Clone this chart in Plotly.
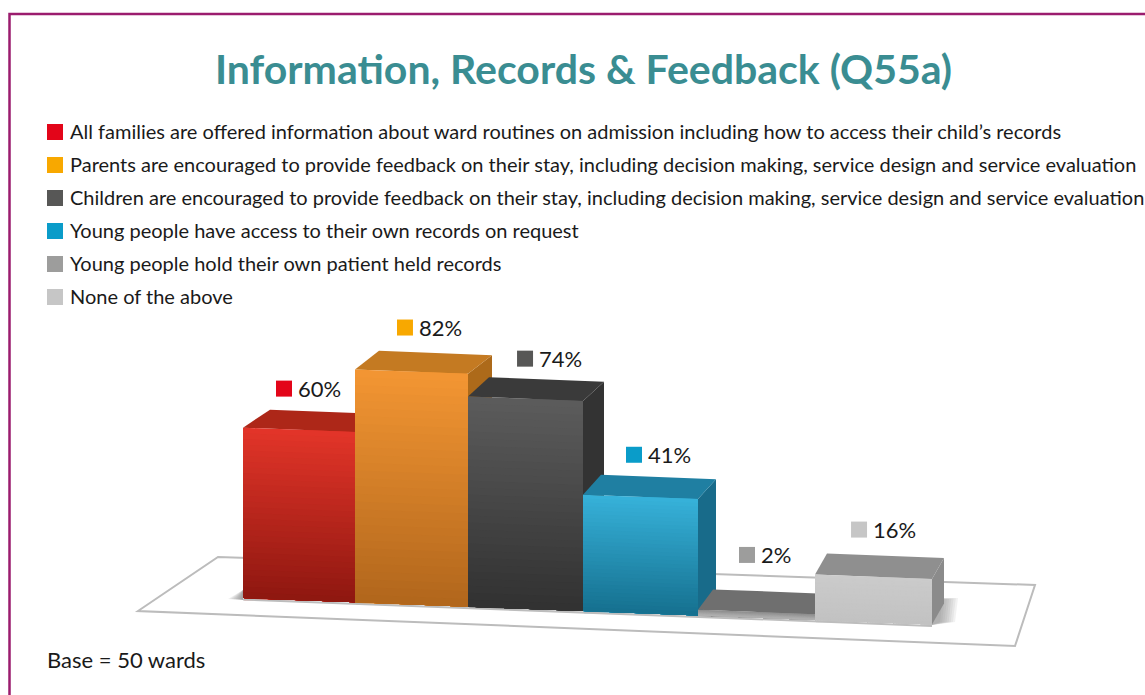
import plotly.graph_objects as go

# ---- data ----
categories = [
    "All families are offered information about ward routines on admission including how to access their child’s records",
    "Parents are encouraged to provide feedback on their stay, including decision making, service design and service evaluation",
    "Children are encouraged to provide feedback on their stay, including decision making, service design and service evaluation",
    "Young people have access to their own records on request",
    "Young people hold their own patient held records",
    "None of the above",
]
values = [60, 82, 74, 41, 2, 16]
value_labels = ["60%", "82%", "74%", "41%", "2%", "16%"]
title_text = "Information, Records &amp; Feedback (Q55a)"
base_note = "Base = 50 wards"

# ---- styles ----
swatch_colors = ["#e30519", "#f8a800", "#575756", "#0a9cc9", "#9d9d9c", "#c6c6c6"]
front_top = ["#e33529", "#f39633", "#5c5c5c", "#37b2da", "#8c8c8c", "#cbcbcb"]
front_bottom = ["#8e1710", "#b1661c", "#313131", "#15708f", "#b5b5b5", "#c2c2c2"]
top_face = ["#ad2718", "#c47a22", "#3a3a3a", "#1f7fa2", "#6f6f6f", "#8f8f8f"]
side_face = ["#8f1f12", "#ad6a1a", "#333333", "#186b8a", "#5f5f5f", "#8b8b8b"]
FONT = "Lato"
W, H = 1145, 695

# pixel geometry of the drawing
X0, STEP = 299.7, 114.67        # px of category 0 centre, px per category
Y0, SCALE = 600.0, 2.84         # px of value 0, px per percentage point
TILT = 4.4 / 2.84               # floor drop per category, in value units
GRAD = 30
bar_edges_px = [243, 355, 468, 583, 698, 815, 932]  # perspective makes bars widen to the right

def px2x(p):
    return (p - X0) / STEP

def px2y(p):
    return (Y0 - p) / SCALE

def floor(x):
    return 0.7 - TILT * (x + 0.5)

def fx(p):
    return p / W

def fy(p):
    return 1 - p / H

def paper_path(pts):
    return "M" + " L".join(f"{fx(a):.5f},{fy(b):.5f}" for a, b in pts) + " Z"

def mix(c1, c2, t):
    a = [int(c1[i:i + 2], 16) for i in (1, 3, 5)]
    b = [int(c2[i:i + 2], 16) for i in (1, 3, 5)]
    return "#" + "".join(f"{round(u + (v - u) * t):02x}" for u, v in zip(a, b))

edges = [px2x(p) for p in bar_edges_px]
centres = [(a + b) / 2 for a, b in zip(edges, edges[1:])]
widths = [(b - a) * 0.98 for a, b in zip(edges, edges[1:])]

fig = go.Figure()

# the real bars (overpainted by the shaded faces below)
fig.add_trace(go.Bar(
    x=centres, y=values,
    base=[floor(c) for c in centres],
    width=widths, marker=dict(color=front_top, line=dict(width=0)),
    customdata=categories, hovertemplate="%{customdata}: %{y}%<extra></extra>",
    showlegend=False,
))

def poly(xs, ys, color):
    fig.add_trace(go.Scatter(
        x=xs + xs[:1], y=ys + ys[:1], mode="lines", fill="toself",
        fillcolor=color, line=dict(color=color, width=0),
        hoverinfo="skip", showlegend=False,
    ))

# faint contact line beneath the bars
fig.add_trace(go.Scatter(
    x=[edges[0], edges[-1]],
    y=[floor(edges[0]) - 0.5, floor(edges[-1]) - 0.5],
    mode="lines", line=dict(color="#bdbdbd", width=2),
    hoverinfo="skip", showlegend=False,
))

for i, v in enumerate(values):
    xl, xr = edges[i], edges[i + 1]
    dx_back = (27 - 3 * i) / STEP
    dy_back = (18 + 0.6 * i) / SCALE
    fl, fr = floor(xl), floor(xr)
    tl, tr = fl + v, fr + v
    # right side
    poly([xr, xr + dx_back, xr + dx_back, xr],
         [tr, tr + dy_back, fr + dy_back, fr], side_face[i])
    # top
    poly([xl, xl + dx_back, xr + dx_back, xr],
         [tl, tl + dy_back, tr + dy_back, tr], top_face[i])
    # front, shaded from top to bottom (each slice repaints everything below it)
    for k in range(GRAD):
        a = k / GRAD
        poly([xl, xr, xr, xl],
             [tl - a * v, tr - a * v, fr, fl],
             mix(front_top[i], front_bottom[i], (k + 0.5) / GRAD))

# value labels: swatch + text, placed relative to each bar's top
label_dx = [-15.7, -9.4, -4, -9.7, -11.4, -14]
label_dy = [39, 42, 38, 40, 55, 45]
sw_x, sw_y = [], []
annotations = []
for i, v in enumerate(values):
    top = floor(i - 0.5) + v
    x = i + label_dx[i] / STEP
    y = top + label_dy[i] / SCALE
    sw_x.append(x)
    sw_y.append(y)
    annotations.append(dict(
        x=x, y=y, xref="x", yref="y", text=value_labels[i], showarrow=False,
        xanchor="left", yanchor="middle", xshift=12,
        font=dict(family=FONT, size=22, color="#1a1a1a"),
    ))
fig.add_trace(go.Scatter(
    x=sw_x, y=sw_y, mode="markers",
    marker=dict(symbol="square", size=16, color=swatch_colors, line=dict(width=0)),
    hoverinfo="skip", showlegend=False,
))

# legend rows
legend_rows = [132, 165, 198, 231, 264, 297]
shapes = []
for label, color, row in zip(categories, swatch_colors, legend_rows):
    shapes.append(dict(type="rect", xref="paper", yref="paper", layer="above",
                       x0=fx(47), x1=fx(63), y0=fy(row - 8), y1=fy(row + 8),
                       fillcolor=color, line=dict(width=0)))
    annotations.append(dict(
        x=fx(68), y=fy(row - 1), xref="paper", yref="paper", text=label, showarrow=False,
        xanchor="left", yanchor="middle",
        font=dict(family=FONT, size=20, color="#1a1a1a"),
    ))

annotations.append(dict(
    x=fx(583.5), y=fy(68), xref="paper", yref="paper", text=title_text, showarrow=False,
    xanchor="center", yanchor="middle",
    font=dict(family=FONT, size=41, color="#3a8d92", weight="bold"),
))
annotations.append(dict(
    x=fx(45), y=fy(659), xref="paper", yref="paper", text=base_note, showarrow=False,
    xanchor="left", yanchor="middle",
    font=dict(family=FONT, size=22, color="#1a1a1a"),
))

# platform under the bars
shapes.append(dict(type="path", xref="paper", yref="paper", layer="below",
                   path=paper_path([(138, 611), (218, 557), (1035, 585), (1015, 646)]),
                   fillcolor="#ffffff", line=dict(color="#bcbcbc", width=2)))
# soft shadows at the feet of the outer bars
STEPS = 8
for s in range(STEPS):
    grow = 1 - s / STEPS
    shapes.append(dict(type="path", xref="paper", yref="paper", layer="below",
                       path=paper_path([(932, 598), (940 + 18 * grow, 598 + 2 * (1 - grow)),
                                        (938 + 17 * grow, 622), (932, 625)]),
                       fillcolor="rgba(110,110,110,0.09)", line=dict(width=0)))
    shapes.append(dict(type="path", xref="paper", yref="paper", layer="below",
                       path=paper_path([(243, 590), (243 - 15 * grow, 599), (243, 600)]),
                       fillcolor="rgba(90,90,90,0.09)", line=dict(width=0)))
# page frame
shapes.append(dict(type="path", xref="paper", yref="paper", layer="above",
                   path=f"M{fx(9.5)},{fy(695)} L{fx(9.5)},{fy(14)} L{fx(1145)},{fy(14)}",
                   line=dict(color="#9b1c6e", width=2.5)))

fig.update_layout(
    width=W, height=H,
    margin=dict(l=0, r=0, t=0, b=0),
    paper_bgcolor="#ffffff", plot_bgcolor="rgba(0,0,0,0)",
    barmode="overlay", showlegend=False,
    xaxis=dict(visible=False, range=[px2x(0), px2x(W)], fixedrange=True),
    yaxis=dict(visible=False, range=[px2y(H), px2y(0)], fixedrange=True),
    shapes=shapes, annotations=annotations,
)
fig.write_html("out.html", config={"displayModeBar": False},
               post_script="document.body.style.margin='0';document.body.style.overflow='hidden';")
